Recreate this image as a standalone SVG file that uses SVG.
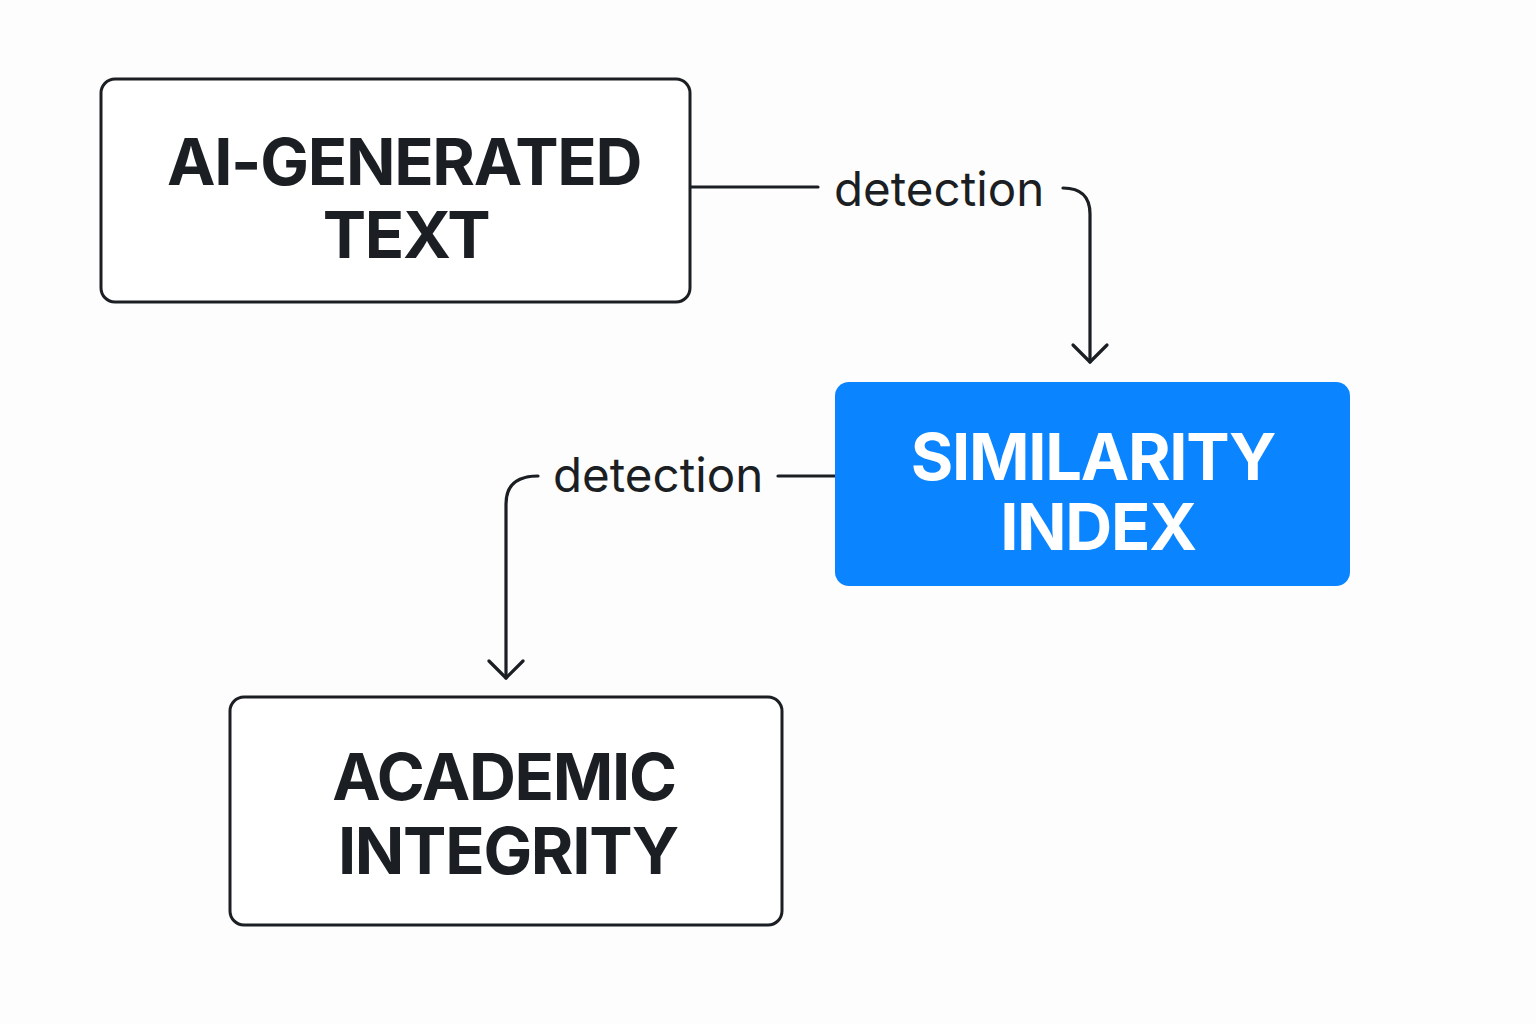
<svg xmlns="http://www.w3.org/2000/svg" width="1536" height="1024" viewBox="0 0 1536 1024">
<style>
.box{fill:#ffffff;stroke:#1b1f23;stroke-width:3}
.blue{fill:#0a84ff}
.t{font-family:Inter,"Liberation Sans",sans-serif;font-weight:700;font-size:65px;letter-spacing:-1.3px;text-anchor:middle}
.dark{fill:#1b1f23}
.white{fill:#ffffff}
.lbl{font-family:Inter,"Liberation Sans",sans-serif;font-weight:400;font-size:47.5px;fill:#1b1f23}
.c{fill:none;stroke:#1b1f23;stroke-width:3.2;stroke-linecap:round;stroke-linejoin:round}
</style>
<rect width="1536" height="1024" fill="#fdfdfd"/>
<g id="connectors">
<path class="c" d="M690 187 H818"/>
<path class="c" d="M1063 188 Q1090 188 1090 214 V362"/>
<path class="c" d="M1073 345 L1090 362 L1107 345"/>
<path class="c" d="M835 476 H778"/>
<path class="c" d="M538 476 Q506 476 506 504 V678"/>
<path class="c" d="M489 661 L506 678 L523 661"/>
<text class="lbl" x="834" y="206">detection</text>
<text class="lbl" x="553" y="492">detection</text>
</g>
<g id="node-ai">
<rect class="box" x="101" y="79" width="589" height="223" rx="14"/>
<text class="t dark" x="404" y="185">AI-GENERATED</text>
<text class="t dark" x="406" y="258">TEXT</text>
</g>
<g id="node-similarity">
<rect class="blue" x="835" y="382" width="515" height="204" rx="14"/>
<text class="t white" x="1093" y="480">SIMILARITY</text>
<text class="t white" x="1098" y="550">INDEX</text>
</g>
<g id="node-academic">
<rect class="box" x="230" y="697" width="552" height="228" rx="14"/>
<text class="t dark" x="504" y="800">ACADEMIC</text>
<text class="t dark" x="508" y="874">INTEGRITY</text>
</g>
</svg>
